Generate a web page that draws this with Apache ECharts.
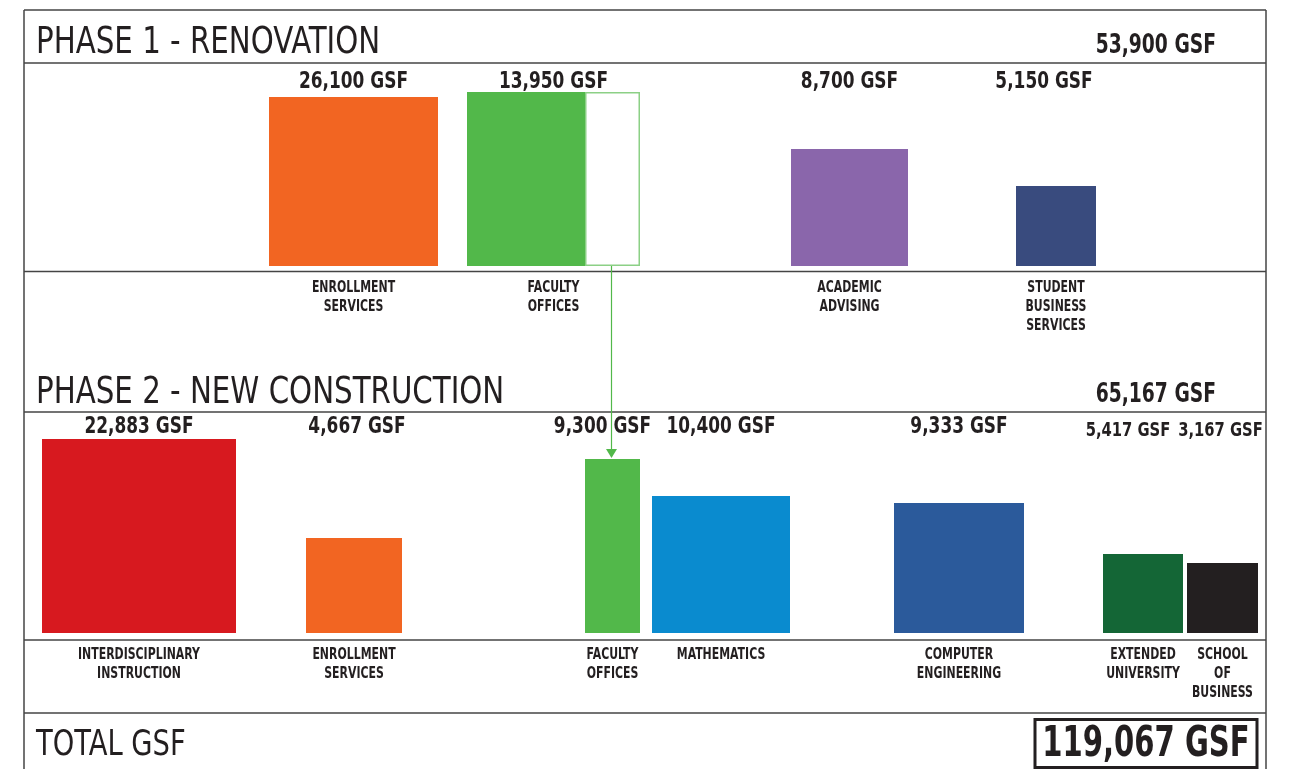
<!DOCTYPE html>
<html><head><meta charset="utf-8">
<script src="https://cdn.jsdelivr.net/npm/echarts@6/dist/echarts.min.js"></script>
<style>html,body{margin:0;padding:0;background:#fff}#c{width:1297px;height:769px}</style>
</head><body><div id="c"></div>
<script>
// ---------------- data ----------------
const p1Title = 'PHASE 1 - RENOVATION';
const p1Names = ['ENROLLMENT\nSERVICES', 'FACULTY\nOFFICES', 'ACADEMIC\nADVISING', 'STUDENT\nBUSINESS\nSERVICES'];
const p1Gsf = [26100, 13950, 8700, 5150];
const p1Total = 53900;

const p2Title = 'PHASE 2 - NEW CONSTRUCTION';
const p2Names = ['INTERDISCIPLINARY\nINSTRUCTION', 'ENROLLMENT\nSERVICES', 'FACULTY\nOFFICES', 'MATHEMATICS', 'COMPUTER\nENGINEERING', 'EXTENDED\nUNIVERSITY', 'SCHOOL\nOF\nBUSINESS'];
const p2Gsf = [22883, 4667, 9300, 10400, 9333, 5417, 3167];
const p2Total = 65167;

const totalTitle = 'TOTAL GSF';
const grandTotal = 119067;

// ---------------- layout (plan units along each strip) ----------------
const p1Left = [269, 467, 791, 1016];
const p1Wide = [169, 173, 117, 80];
const p1Tall = [169, 174, 117, 80];
const p1Moved = [0, 55, 0, 0];          // part of the block relocated to phase 2 (outlined)
const p1Shift = [0, 0, 0, -12];
const p1Drop = [0, 0, 0, 0];
const p1Size = [23, 23, 23, 23];

const p2Left = [42, 306, 585, 652, 894, 1103, 1187];
const p2Wide = [194, 96, 55, 138, 130, 80, 71];
const p2Tall = [194, 95, 174, 137, 130, 79, 70];
const p2Shift = [0, 3, -10, 0, 0, -15, -2];
const p2Drop = [0, 0, 0, 0, 0, 4, 4];
const p2Size = [23, 23, 23, 23, 23, 20, 20];

// ---------------- styles ----------------
const p1Colors = ['#F26522', '#52B84A', '#8A66AB', '#394B7E'];
const p2Colors = ['#D7191F', '#F26522', '#52B84A', '#0A8BCF', '#2B5A9B', '#146636', '#231F20'];
const FONT = "'DejaVu Sans Condensed', 'Liberation Sans', sans-serif";
const INK = '#231F20';
const fmt = v => v.toLocaleString('en-US') + ' GSF';

// condensed text: horizontal squeeze around the anchor point
function txt(x, y, text, size, bold, align, vAlign, squeeze, extra) {
  return {
    type: 'text', x: x, y: y, scaleX: squeeze, silent: true,
    style: Object.assign({ text: text, x: 0, y: 0, fill: INK, fontFamily: FONT, fontWeight: bold ? 'bold' : 'normal',
      fontSize: size, align: align, verticalAlign: vAlign }, extra || {})
  };
}

function makeRender(names, gsf, colors, moved, shift, drop, size, labelLevel) {
  return function (params, api) {
    const i = params.dataIndex;
    const left = api.value(0), w = api.value(1), h = api.value(2);
    const b0 = api.coord([left, 0]);
    const t1 = api.coord([left + w, h]);
    const m = moved ? moved[i] : 0;
    const children = [];
    const fillEnd = api.coord([left + w - m, 0]);
    children.push({
      type: 'rect',
      shape: { x: b0[0], y: t1[1], width: fillEnd[0] - b0[0], height: b0[1] - t1[1] },
      style: { fill: colors[i] }
    });
    if (m > 0) {
      children.push({
        type: 'rect',
        shape: { x: fillEnd[0] + 0.75, y: t1[1] + 0.75, width: t1[0] - fillEnd[0] - 1.5, height: b0[1] - t1[1] - 1.5 },
        style: { fill: '#fff', stroke: '#8CD086', lineWidth: 1.5 }
      });
    }
    const lp = api.coord([left + w / 2 + shift[i], labelLevel - drop[i]]);
    children.push(txt(lp[0], lp[1], fmt(gsf[i]), size[i], true, 'center', 'middle', 0.82));
    const cx = (b0[0] + t1[0]) / 2;
    children.push(txt(cx, b0[1] + 13, names[i], 15, true, 'center', 'top', 0.81, { lineHeight: 19 }));
    return { type: 'group', children };
  };
}

const p1Data = p1Gsf.map((v, i) => [p1Left[i], p1Wide[i], p1Tall[i], v]);
const p2Data = p2Gsf.map((v, i) => [p2Left[i], p2Wide[i], p2Tall[i], v]);

const chart = echarts.init(document.getElementById('c'), null, { renderer: 'canvas' });

const lineStyle = { stroke: '#444', lineWidth: 1.5 };
function hline(y) { return { type: 'line', shape: { x1: 24, y1: y, x2: 1266, y2: y }, style: lineStyle, silent: true }; }
const staticGraphic = [
  { type: 'line', shape: { x1: 24, y1: 10, x2: 1266, y2: 10 }, style: lineStyle },
  { type: 'line', shape: { x1: 24, y1: 10, x2: 24, y2: 769 }, style: lineStyle },
  { type: 'line', shape: { x1: 1266, y1: 10, x2: 1266, y2: 769 }, style: lineStyle },
  hline(63), hline(271.5), hline(412), hline(640), hline(713),
  txt(36, 43, p1Title, 37, false, 'left', 'middle', 0.88),
  txt(1216, 46, fmt(p1Total), 26, true, 'right', 'middle', 0.8),
  txt(36, 393, p2Title, 37, false, 'left', 'middle', 0.88),
  txt(1216, 395, fmt(p2Total), 26, true, 'right', 'middle', 0.8),
  txt(36, 746, totalTitle, 35, false, 'left', 'middle', 0.87),
  { type: 'rect', shape: { x: 1035, y: 719.5, width: 222, height: 48 }, style: { fill: '#fff', stroke: INK, lineWidth: 3 } },
  txt(1146, 745, fmt(grandTotal), 42, true, 'center', 'middle', 0.77)
];

const option = {
  animation: false,
  backgroundColor: '#fff',
  grid: [
    { left: 0, width: 1297, top: 62, height: 204 },
    { left: 0, width: 1297, top: 412, height: 221 }
  ],
  xAxis: [
    { gridIndex: 0, type: 'value', min: 0, max: 1297, show: false },
    { gridIndex: 1, type: 'value', min: 0, max: 1297, show: false }
  ],
  yAxis: [
    { gridIndex: 0, type: 'value', min: 0, max: 204, show: false },
    { gridIndex: 1, type: 'value', min: 0, max: 221, show: false }
  ],
  series: [
    { type: 'custom', xAxisIndex: 0, yAxisIndex: 0, data: p1Data, clip: false,
      renderItem: makeRender(p1Names, p1Gsf, p1Colors, p1Moved, p1Shift, p1Drop, p1Size, 184) },
    { type: 'custom', xAxisIndex: 1, yAxisIndex: 1, data: p2Data, clip: false,
      renderItem: makeRender(p2Names, p2Gsf, p2Colors, null, p2Shift, p2Drop, p2Size, 206) }
  ],
  graphic: staticGraphic
};
chart.setOption(option);

// arrow: from the relocated (outlined) strip in phase 1 to the faculty block in phase 2
const fi = 1, ti = 2;
const stripX = p1Left[fi] + p1Wide[fi] - p1Moved[fi] / 2;
const from = chart.convertToPixel({ xAxisIndex: 0, yAxisIndex: 0 }, [stripX, 0]);
const to = chart.convertToPixel({ xAxisIndex: 1, yAxisIndex: 1 }, [p2Left[ti] + p2Wide[ti] / 2, p2Tall[ti]]);
const ax = Math.round(from[0]) - 1.5;
chart.setOption({
  graphic: staticGraphic.concat([
    { type: 'line', shape: { x1: ax, y1: from[1], x2: ax, y2: to[1] - 8 }, style: { stroke: '#52B84A', lineWidth: 1.2 } },
    { type: 'polygon', shape: { points: [[ax - 5.5, to[1] - 10], [ax + 5.5, to[1] - 10], [ax, to[1] - 1]] }, style: { fill: '#52B84A' } }
  ])
});
</script>
</body></html>
